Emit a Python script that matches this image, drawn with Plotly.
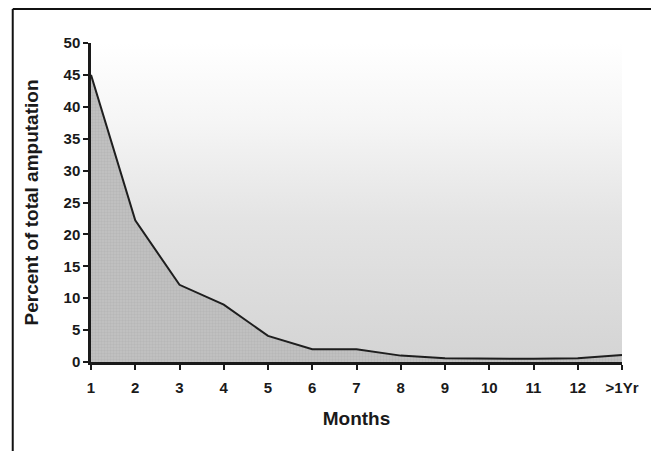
import plotly.graph_objects as go

categories = ["1", "2", "3", "4", "5", "6", "7", "8", "9", "10", "11", "12", ">1Yr"]
percent = [45, 22.2, 12.1, 9.0, 4.1, 2.0, 2.0, 1.0, 0.6, 0.5, 0.5, 0.6, 1.1]
y_ticks = [0, 5, 10, 15, 20, 25, 30, 35, 40, 45, 50]

x_idx = list(range(len(categories)))

W, H = 651, 451
ML, MR, MT, MB = 91, 24, 43, 89
pw, ph = W - ML - MR, H - MT - MB

fig = go.Figure()

# gradient background (full plot area)
fig.add_trace(go.Scatter(
    x=[x_idx[0], x_idx[-1]], y=[y_ticks[-1], y_ticks[-1]],
    mode="lines", line=dict(width=0), fill="tozeroy",
    fillgradient=dict(type="vertical",
                      colorscale=[[0, "#d4d4d4"], [0.45, "#e4e4e4"], [0.75, "#f5f5f5"], [1, "#ffffff"]]),
    hoverinfo="skip", showlegend=False,
))

# data area
fig.add_trace(go.Scatter(
    x=x_idx, y=percent, mode="lines",
    line=dict(color="#1e1e1e", width=2),
    fill="tozeroy",
    fillcolor="#bdbdbd",
    fillpattern=dict(shape="+", bgcolor="#c0c0c0", fgcolor="#a4a4a4", size=3, solidity=0.25),
    showlegend=False,
))

def px_x(p):
    return (p - ML) / pw

def px_y(p):
    return (H - MB - p) / ph

fig.add_shape(type="line", xref="paper", yref="paper",
              x0=px_x(12), x1=px_x(W + 10), y0=px_y(9), y1=px_y(9),
              line=dict(color="#111", width=2))
fig.add_shape(type="line", xref="paper", yref="paper",
              x0=px_x(12), x1=px_x(12), y0=px_y(9), y1=px_y(H + 10),
              line=dict(color="#111", width=2))

fig.update_layout(
    width=W, height=H,
    margin=dict(l=ML, r=MR, t=MT, b=MB),
    paper_bgcolor="white", plot_bgcolor="rgba(0,0,0,0)",
    font=dict(family="Liberation Sans, Arial, sans-serif", color="#1a1a1a"),
    xaxis=dict(
        range=[x_idx[0], x_idx[-1]], tickvals=x_idx,
        ticktext=[f"<b>{c}</b>" for c in categories],
        showgrid=False, zeroline=False, showline=True, linecolor="#1a1a1a", linewidth=2.5,
        ticks="outside", ticklen=5, tickwidth=2, tickcolor="#1a1a1a",
        tickfont=dict(size=15), ticklabelstandoff=5,
        title=dict(text="<b>Months</b>", font=dict(size=19), standoff=17),
    ),
    yaxis=dict(
        range=[0, 50], tickvals=y_ticks, ticktext=[f"<b>{v}</b>" for v in y_ticks],
        showgrid=False, zeroline=False, showline=True, linecolor="#1a1a1a", linewidth=2.5,
        ticks="outside", ticklen=5, tickwidth=2, tickcolor="#1a1a1a",
        tickfont=dict(size=15), ticklabelstandoff=0,
        title=dict(text="<b>Percent of total amputation</b>", font=dict(size=19), standoff=20),
    ),
)

fig.write_html("out.html")
